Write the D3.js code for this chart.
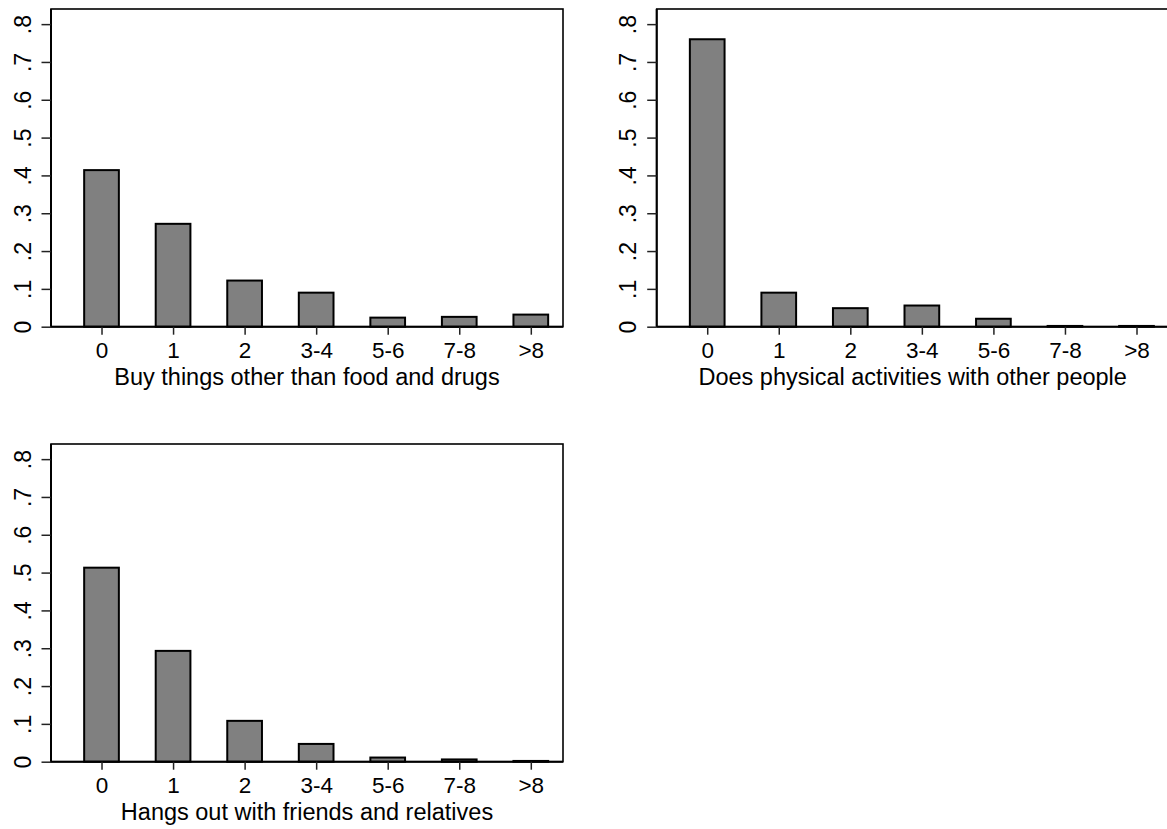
<!DOCTYPE html>
<html>
<head>
<meta charset="utf-8">
<script src="https://cdn.jsdelivr.net/npm/d3@7"></script>
<style>
  html, body { margin: 0; padding: 0; background: #fff; }
  svg { display: block; }
  text { font-family: Arial, "Liberation Sans", sans-serif; fill: #000; }
</style>
</head>
<body>
<svg id="chart" width="1167" height="829"></svg>
<script>
const categories = ["0", "1", "2", "3-4", "5-6", "7-8", ">8"];
const buyThings = [0.414, 0.272, 0.122, 0.090, 0.024, 0.026, 0.032];
const physicalActivities = [0.760, 0.090, 0.049, 0.056, 0.021, 0.002, 0.002];
const hangsOut = [0.513, 0.293, 0.108, 0.047, 0.011, 0.006, 0.002];
const yTickValues = [0, 0.1, 0.2, 0.3, 0.4, 0.5, 0.6, 0.7, 0.8];
const yTickLabels = ["0", ".1", ".2", ".3", ".4", ".5", ".6", ".7", ".8"];
const panelTitles = [
  "Buy things other than food and drugs",
  "Does physical activities with other people",
  "Hangs out with friends and relatives"
];

const panels = [
  { values: buyThings, title: panelTitles[0], left: 51, top: 9, bottom: 326.7 },
  { values: physicalActivities, title: panelTitles[1], left: 656.7, top: 9, bottom: 326.7 },
  { values: hangsOut, title: panelTitles[2], left: 51, top: 444, bottom: 761.7 }
];

const svg = d3.select("#chart");
const plotW = 512;
const barHalf = 0.2425;
const FONT = "Arial, 'Liberation Sans', sans-serif";

panels.forEach(p => {
  const g = svg.append("g");
  const x = d3.scaleLinear().domain([-0.706, 6.45]).range([p.left, p.left + plotW]);
  const y = d3.scaleLinear().domain([0, 0.84]).range([p.bottom, p.top]);

  // plot region frame
  g.append("rect")
    .attr("x", p.left).attr("y", p.top)
    .attr("width", plotW).attr("height", p.bottom - p.top)
    .attr("fill", "none").attr("stroke", "#000").attr("stroke-width", 1.6);

  // bars
  g.selectAll("rect.bar").data(p.values).enter().append("rect")
    .attr("class", "bar")
    .attr("x", (d, i) => x(i - barHalf))
    .attr("width", (d, i) => x(i + barHalf) - x(i - barHalf))
    .attr("y", d => y(d))
    .attr("height", d => y(0) - y(d))
    .attr("fill", "#808080")
    .attr("stroke", "#000")
    .attr("stroke-width", 2);

  // x axis
  const xAxis = d3.axisBottom(x)
    .tickValues(d3.range(categories.length))
    .tickFormat(i => categories[i])
    .tickSize(8).tickPadding(5);
  const gx = g.append("g").attr("transform", `translate(0,${p.bottom})`).call(xAxis);
  gx.select(".domain").attr("stroke", "#000").attr("stroke-width", 2)
    .attr("d", `M${p.left},0H${p.left + plotW}`);
  gx.selectAll(".tick line").attr("stroke", "#222").attr("stroke-width", 1.5);
  gx.selectAll(".tick text")
    .attr("font-size", 22.5).attr("fill", "#000").attr("font-family", FONT)
    .attr("y", 31).attr("dy", "0");

  // y axis
  const yAxis = d3.axisLeft(y)
    .tickValues(yTickValues)
    .tickFormat((d, i) => yTickLabels[i])
    .tickSize(9.5).tickPadding(0);
  const gy = g.append("g").attr("transform", `translate(${p.left},0)`).call(yAxis);
  gy.select(".domain").attr("stroke", "#000").attr("stroke-width", 2)
    .attr("d", `M0,${p.top}V${p.bottom}`);
  gy.selectAll(".tick line").attr("stroke", "#222").attr("stroke-width", 1.5);
  gy.selectAll(".tick text")
    .attr("font-size", 23).attr("fill", "#000").attr("font-family", FONT)
    .attr("x", null).attr("dy", "0")
    .attr("text-anchor", "middle")
    .attr("transform", "translate(-20.5,0) rotate(-90)");

  // title
  g.append("text")
    .attr("x", p.left + plotW / 2)
    .attr("y", p.bottom + 58)
    .attr("text-anchor", "middle")
    .attr("font-size", 23.5)
    .attr("font-family", FONT)
    .text(p.title);
});
</script>
</body>
</html>
